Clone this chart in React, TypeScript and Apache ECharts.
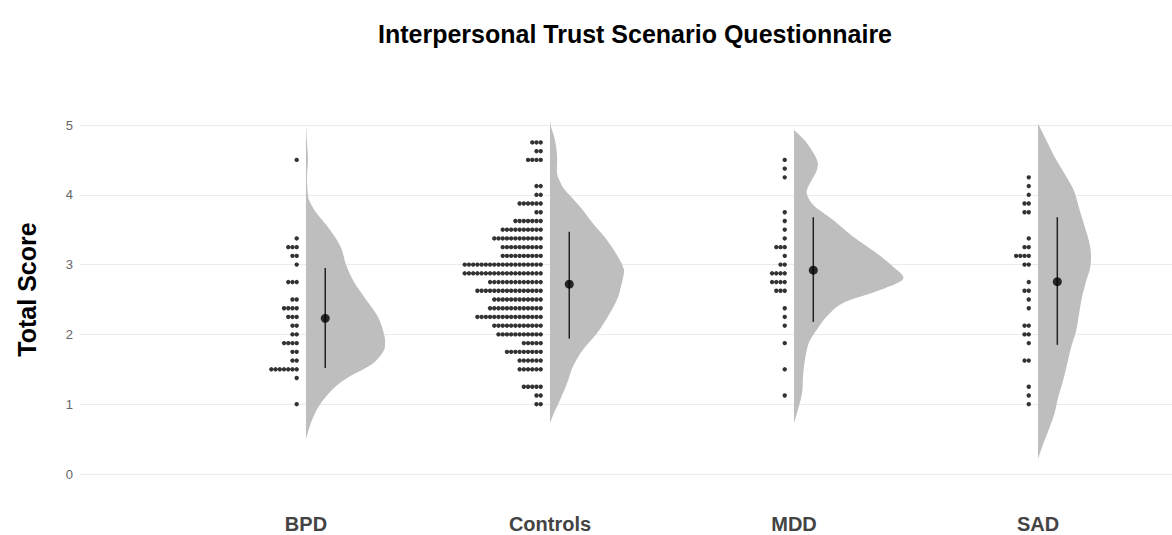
import React, { useEffect, useRef } from "react";
import * as echarts from "echarts";

// ---------- data ----------
const groups = ["BPD", "Controls", "MDD", "SAD"];

// dot-plot bins (score level, number of dots)
const bpdLevels = [4.5, 3.375, 3.25, 3.125, 3.0, 2.75, 2.5, 2.375, 2.25, 2.125, 2.0, 1.875, 1.75, 1.625, 1.5, 1.375, 1.0];
const bpdCounts = [1, 1, 3, 2, 1, 3, 2, 4, 3, 2, 2, 4, 2, 2, 7, 1, 1];

const controlsLevels = [4.75, 4.625, 4.5, 4.125, 4.0, 3.875, 3.75, 3.625, 3.5, 3.375, 3.25, 3.125, 3.0, 2.875, 2.75, 2.625, 2.5, 2.375, 2.25, 2.125, 2.0, 1.875, 1.75, 1.625, 1.5, 1.25, 1.125, 1.0];
const controlsCounts = [3, 2, 4, 2, 2, 6, 2, 7, 10, 12, 10, 10, 19, 19, 13, 16, 12, 13, 16, 12, 11, 5, 9, 6, 6, 5, 2, 2];

const mddLevels = [4.5, 4.375, 4.25, 3.75, 3.625, 3.5, 3.375, 3.25, 3.125, 3.0, 2.875, 2.75, 2.625, 2.375, 2.25, 2.125, 1.875, 1.5, 1.125];
const mddCounts = [1, 1, 1, 1, 1, 1, 1, 3, 1, 2, 4, 4, 3, 1, 1, 1, 1, 1, 1];

const sadLevels = [4.25, 4.125, 4.0, 3.875, 3.75, 3.375, 3.25, 3.125, 3.0, 2.75, 2.625, 2.5, 2.375, 2.125, 2.0, 1.875, 1.625, 1.25, 1.125, 1.0];
const sadCounts = [1, 1, 1, 2, 2, 1, 2, 4, 2, 1, 2, 1, 1, 2, 2, 1, 2, 1, 1, 1];

// half-violin density outlines: score level and width (in category units)
const bpdViolinY = [5.0, 4.75, 4.5, 4.25, 4.0, 3.9, 3.75, 3.5, 3.25, 3.0, 2.75, 2.5, 2.25, 2.0, 1.85, 1.75, 1.6, 1.5, 1.4, 1.25, 1.0, 0.75, 0.5];
const bpdViolinW = [0, 0.004, 0.008, 0.004, 0.008, 0.016, 0.041, 0.098, 0.143, 0.164, 0.197, 0.246, 0.295, 0.32, 0.324, 0.316, 0.28, 0.235, 0.18, 0.12, 0.058, 0.022, 0];

const controlsViolinY = [5.1, 4.98, 4.79, 4.55, 4.31, 4.19, 4.07, 3.83, 3.59, 3.35, 3.11, 2.97, 2.88, 2.69, 2.5, 2.26, 2.02, 1.78, 1.54, 1.3, 1.06, 0.87, 0.73];
const controlsViolinW = [0, 0.004, 0.02, 0.029, 0.029, 0.041, 0.061, 0.123, 0.176, 0.234, 0.279, 0.299, 0.303, 0.291, 0.275, 0.238, 0.193, 0.135, 0.094, 0.07, 0.041, 0.016, 0];

const mddViolinY = [4.93, 4.74, 4.5, 4.36, 4.22, 4.07, 3.97, 3.83, 3.64, 3.4, 3.16, 2.97, 2.83, 2.74, 2.6, 2.45, 2.26, 2.07, 1.88, 1.64, 1.4, 1.16, 0.92, 0.73];
const mddViolinW = [0, 0.053, 0.094, 0.094, 0.074, 0.053, 0.057, 0.086, 0.16, 0.242, 0.34, 0.406, 0.447, 0.426, 0.324, 0.201, 0.135, 0.094, 0.061, 0.045, 0.037, 0.033, 0.016, 0];

const sadViolinY = [5.02, 4.76, 4.53, 4.29, 4.05, 3.81, 3.57, 3.33, 3.14, 2.95, 2.76, 2.53, 2.29, 2.05, 1.81, 1.57, 1.33, 1.09, 0.85, 0.61, 0.42, 0.22];
const sadViolinW = [0, 0.037, 0.07, 0.111, 0.148, 0.168, 0.189, 0.209, 0.217, 0.213, 0.197, 0.18, 0.168, 0.156, 0.135, 0.119, 0.102, 0.082, 0.066, 0.041, 0.02, 0];

// mean and error bar per group
const means = [2.23, 2.72, 2.92, 2.755];
const lowers = [1.52, 1.94, 2.18, 1.85];
const uppers = [2.95, 3.47, 3.68, 3.68];

// ---------- layout constants ----------
const DOT_GAP = 0.038;
const DOT_STEP = 0.0173;
const MEAN_OFFSET = 0.079;
const FONT = "'Liberation Sans', Arial, sans-serif";

const dotLevels = [bpdLevels, controlsLevels, mddLevels, sadLevels];
const dotCounts = [bpdCounts, controlsCounts, mddCounts, sadCounts];
const violinY = [bpdViolinY, controlsViolinY, mddViolinY, sadViolinY];
const violinW = [bpdViolinW, controlsViolinW, mddViolinW, sadViolinW];

// Catmull-Rom curve through screen points (for drawing a smooth outline)
function catmull(pts: number[][], steps: number): number[][] {
  const out: number[][] = [];
  const n = pts.length;
  for (let i = 0; i < n - 1; i++) {
    const p0 = pts[Math.max(0, i - 1)];
    const p1 = pts[i];
    const p2 = pts[i + 1];
    const p3 = pts[Math.min(n - 1, i + 2)];
    for (let s = 0; s < steps; s++) {
      const t = s / steps;
      const t2 = t * t;
      const t3 = t2 * t;
      const f = (a: number, b: number, c: number, d: number) =>
        0.5 * (2 * b + (-a + c) * t + (2 * a - 5 * b + 4 * c - d) * t2 + (-a + 3 * b - 3 * c + d) * t3);
      out.push([f(p0[0], p1[0], p2[0], p3[0]), f(p0[1], p1[1], p2[1], p3[1])]);
    }
  }
  out.push(pts[n - 1]);
  return out;
}

export default function App() {
  const ref = useRef<HTMLDivElement>(null);

  useEffect(() => {
    document.body.style.margin = "0";
    const chart = echarts.init(ref.current!, null, { renderer: "svg" });

    const dots: number[][] = [];
    groups.forEach((_, gi) => {
      const pos = gi + 1;
      dotLevels[gi].forEach((lvl, j) => {
        for (let k = 0; k < dotCounts[gi][j]; k++) {
          dots.push([pos - DOT_GAP - k * DOT_STEP, lvl]);
        }
      });
    });

    const option: any = {
      animation: false,
      textStyle: { fontFamily: FONT },
      title: {
        text: "Interpersonal Trust Scenario Questionnaire",
        left: 630,
        textAlign: "center",
        top: 16,
        textStyle: { fontFamily: FONT, fontSize: 25, fontWeight: "bold", color: "#000" },
      },
      grid: { left: 80, right: 0, top: 125, bottom: 61, outerBoundsMode: "none" },
      xAxis: {
        type: "value",
        min: 0.074,
        max: 4.549,
        axisLine: { show: false },
        axisTick: { show: false },
        splitLine: { show: false },
        axisLabel: {
          customValues: [1, 2, 3, 4],
          formatter: (v: number) => groups[Math.round(v) - 1] || "",
          fontSize: 20,
          fontWeight: "bold",
          color: "#444",
          margin: 40,
          fontFamily: FONT,
        },
      },
      yAxis: {
        type: "value",
        min: 0,
        max: 5,
        interval: 1,
        name: "Total Score",
        nameLocation: "middle",
        nameGap: 41,
        nameTextStyle: {
          fontSize: 25,
          fontWeight: "bold",
          color: "#000",
          fontFamily: FONT,
          padding: [0, 0, 0, 20],
        },
        axisLine: { show: false },
        axisTick: { show: false },
        splitLine: { show: true, lineStyle: { color: "#ebebeb", width: 1 } },
        axisLabel: { fontSize: 13, color: "#666", margin: 7, fontFamily: FONT },
      },
      series: [
        {
          type: "custom",
          name: "violin",
          data: groups.map((_, gi) => [gi + 1]),
          renderItem: (params: any, api: any) => {
            const gi = params.dataIndex;
            const pos = api.value(0);
            const ys = violinY[gi];
            const ws = violinW[gi];
            const edge: number[][] = [];
            for (let i = 0; i < ys.length; i++) edge.push(api.coord([pos + ws[i], ys[i]]));
            const pts = catmull(edge, 10);
            const baseX = api.coord([pos, 0])[0];
            pts.forEach((p) => {
              if (p[0] < baseX) p[0] = baseX;
            });
            pts.push(api.coord([pos, ys[ys.length - 1]]));
            pts.push(api.coord([pos, ys[0]]));
            return {
              type: "polygon",
              shape: { points: pts },
              style: { fill: "#bebebe", stroke: "none" },
            };
          },
          z: 1,
        },
        {
          type: "scatter",
          name: "dots",
          data: dots,
          symbol: "circle",
          symbolSize: 4.4,
          itemStyle: { color: "#000" },
          z: 3,
        },
        {
          type: "custom",
          name: "errorbar",
          data: groups.map((_, gi) => [gi + 1 + MEAN_OFFSET, lowers[gi], uppers[gi]]),
          renderItem: (params: any, api: any) => {
            const p1 = api.coord([api.value(0), api.value(1)]);
            const p2 = api.coord([api.value(0), api.value(2)]);
            return {
              type: "line",
              shape: { x1: p1[0], y1: p1[1], x2: p2[0], y2: p2[1] },
              style: { stroke: "#222", lineWidth: 1.5 },
            };
          },
          z: 4,
        },
        {
          type: "scatter",
          name: "mean",
          data: groups.map((_, gi) => [gi + 1 + MEAN_OFFSET, means[gi]]),
          symbol: "circle",
          symbolSize: 9,
          itemStyle: { color: "#000" },
          z: 5,
        },
      ],
    };

    chart.setOption(option);
    return () => chart.dispose();
  }, []);

  return <div ref={ref} style={{ width: 1172, height: 535 }} />;
}
